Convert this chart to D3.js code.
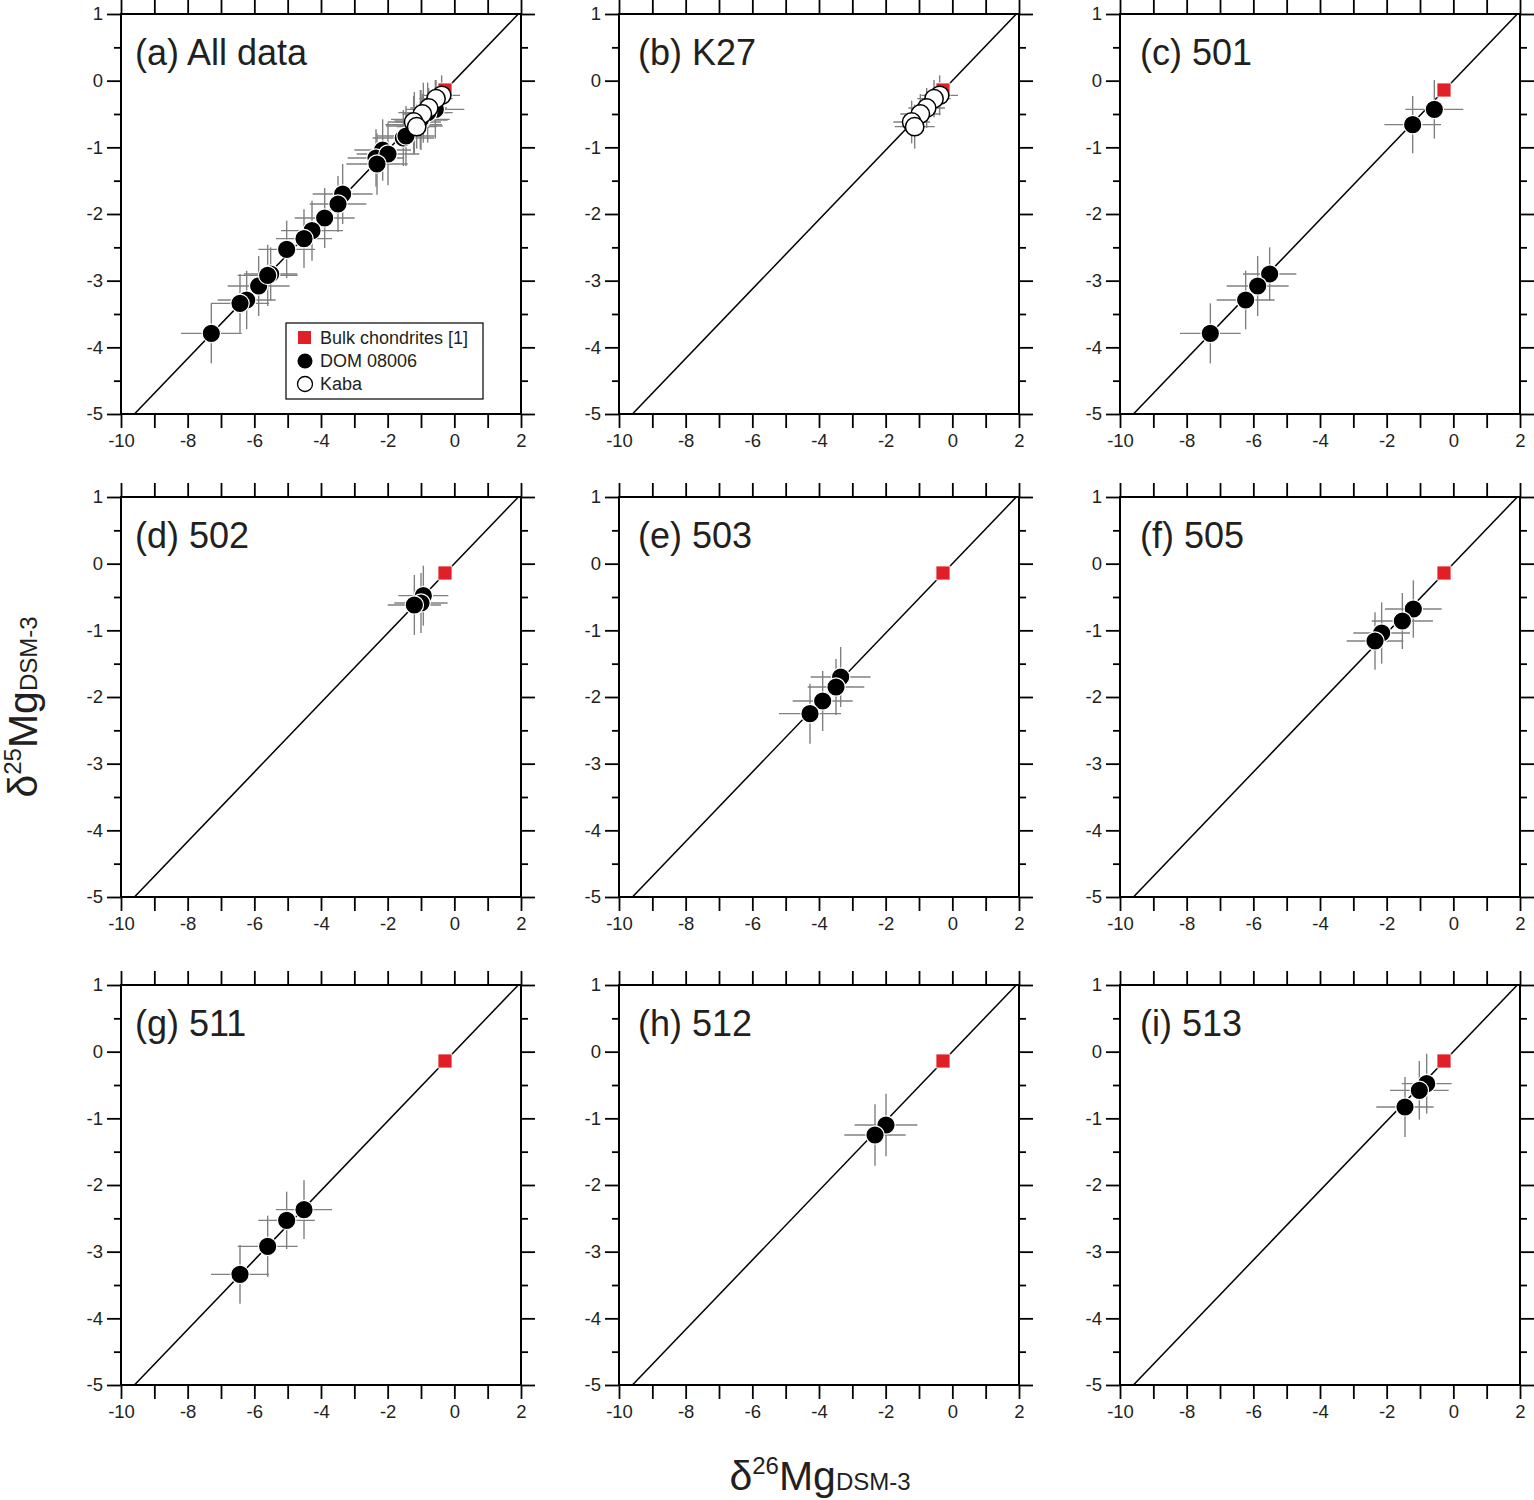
<!DOCTYPE html>
<html>
<head>
<meta charset="utf-8">
<script src="https://cdn.jsdelivr.net/npm/d3@7/dist/d3.min.js"></script>
<style>
  body { margin: 0; background: #fff; }
  svg text { font-family: "Liberation Sans", Arial, Helvetica, sans-serif; fill: #231f20; }
</style>
</head>
<body>
<svg id="chart" width="1534" height="1500"></svg>
<script>
// ---- data: [d26Mg, d25Mg, err26, err25] ----
const bulkChondrites = [[-0.28, -0.14]];
const kabaK27 = [
  [-0.38, -0.22, 0.55, 0.30],
  [-0.55, -0.27, 0.50, 0.28],
  [-0.77, -0.41, 0.55, 0.30],
  [-0.96, -0.50, 0.60, 0.30],
  [-1.22, -0.62, 0.55, 0.32],
  [-1.13, -0.69, 0.60, 0.33]
];
const dom501 = [
  [-0.57, -0.43, 0.87, 0.44],
  [-1.22, -0.66, 0.85, 0.43],
  [-5.51, -2.90, 0.80, 0.40],
  [-5.87, -3.08, 0.93, 0.45],
  [-6.23, -3.29, 0.87, 0.44],
  [-7.29, -3.79, 0.91, 0.45]
];
const dom502 = [
  [-0.93, -0.48, 0.75, 0.45],
  [-1.00, -0.59, 0.80, 0.45],
  [-1.20, -0.62, 0.80, 0.45]
];
const dom503 = [
  [-3.35, -1.70, 0.90, 0.45],
  [-3.49, -1.85, 0.85, 0.42],
  [-3.89, -2.06, 0.90, 0.45],
  [-4.27, -2.25, 0.93, 0.45]
];
const dom505 = [
  [-1.20, -0.68, 0.85, 0.43],
  [-1.53, -0.86, 0.92, 0.42],
  [-2.15, -1.04, 0.85, 0.46],
  [-2.35, -1.16, 0.85, 0.43]
];
const dom511 = [
  [-4.51, -2.37, 0.84, 0.44],
  [-5.03, -2.53, 0.85, 0.43],
  [-5.60, -2.92, 0.90, 0.46],
  [-6.43, -3.34, 0.87, 0.44]
];
const dom512 = [
  [-1.99, -1.10, 0.94, 0.47],
  [-2.32, -1.25, 0.92, 0.46]
];
const dom513 = [
  [-0.80, -0.48, 0.75, 0.45],
  [-1.02, -0.58, 0.88, 0.44],
  [-1.45, -0.83, 0.86, 0.45]
];
const allDom = [].concat(dom501, dom502, dom503, dom505, dom511, dom512, dom513);

const panelLabels = ["(a) All data", "(b) K27", "(c) 501", "(d) 502", "(e) 503", "(f) 505", "(g) 511", "(h) 512", "(i) 513"];
const panelDom = [allDom, [], dom501, dom502, dom503, dom505, dom511, dom512, dom513];
const panelKaba = [kabaK27, kabaK27, [], [], [], [], [], [], []];

const xTickValues = [-10, -8, -6, -4, -2, 0, 2];
const xMinorValues = [-9, -7, -5, -3, -1, 1];
const yTickValues = [-5, -4, -3, -2, -1, 0, 1];
const yMinorValues = [-4.5, -3.5, -2.5, -1.5, -0.5, 0.5];
const fractionationSlope = 0.521;
const legendItems = ["Bulk chondrites [1]", "DOM 08006", "Kaba"];

// ---- layout ----
const colX = [121, 619, 1120];
const rowY = [14, 497, 985];
const labelDx = [14, 19, 20];
const size = 400;
const errColor = "#808080";

const svg = d3.select("#chart");
const x = d3.scaleLinear().domain([-10, 2]).range([0, size]);
const y = d3.scaleLinear().domain([-5, 1]).range([size, 0]);
const plain = d => String(d);   // hyphen minus, like the original

svg.append("defs").append("clipPath").attr("id", "plotClip")
  .append("rect").attr("width", size).attr("height", size);

function styleAxis(g) {
  g.select(".domain").remove();
  g.selectAll(".tick line").attr("stroke", "#000").attr("stroke-width", 1.8);
  g.selectAll(".tick text").attr("font-size", 18.5).attr("fill", "#231f20");
}

panelLabels.forEach((label, i) => {
  const g = svg.append("g")
    .attr("transform", "translate(" + colX[i % 3] + "," + rowY[Math.floor(i / 3)] + ")");

  // axes
  g.append("g").attr("transform", "translate(0," + size + ")")
    .call(d3.axisBottom(x).tickValues(xTickValues).tickSize(14).tickPadding(6).tickFormat(plain))
    .call(styleAxis);
  g.append("g").attr("transform", "translate(0," + size + ")")
    .call(d3.axisBottom(x).tickValues(xMinorValues).tickSize(14).tickFormat(""))
    .call(styleAxis);
  g.append("g")
    .call(d3.axisTop(x).tickValues(xTickValues.concat(xMinorValues)).tickSize(14).tickFormat(""))
    .call(styleAxis);
  g.append("g")
    .call(d3.axisLeft(y).tickValues(yTickValues).tickSize(14).tickPadding(4).tickFormat(plain))
    .call(styleAxis);
  g.append("g")
    .call(d3.axisLeft(y).tickValues(yMinorValues).tickSize(7).tickFormat(""))
    .call(styleAxis);
  g.append("g").attr("transform", "translate(" + size + ",0)")
    .call(d3.axisRight(y).tickValues(yTickValues).tickSize(14).tickFormat(""))
    .call(styleAxis);
  g.append("g").attr("transform", "translate(" + size + ",0)")
    .call(d3.axisRight(y).tickValues(yMinorValues).tickSize(7).tickFormat(""))
    .call(styleAxis);

  const plot = g.append("g").attr("clip-path", "url(#plotClip)");

  // mass-dependent fractionation line
  plot.append("line")
    .attr("x1", x(-10)).attr("y1", y(-10 * fractionationSlope))
    .attr("x2", x(2)).attr("y2", y(2 * fractionationSlope))
    .attr("stroke", "#000").attr("stroke-width", 1.5);

  const pts = panelDom[i].concat(panelKaba[i]);
  // error bars
  plot.selectAll(".ex").data(pts).enter().append("line")
    .attr("x1", d => x(d[0] - d[2])).attr("x2", d => x(d[0] + d[2]))
    .attr("y1", d => y(d[1])).attr("y2", d => y(d[1]))
    .attr("stroke", errColor).attr("stroke-width", 1.4);
  plot.selectAll(".ey").data(pts).enter().append("line")
    .attr("x1", d => x(d[0])).attr("x2", d => x(d[0]))
    .attr("y1", d => y(d[1] - d[3])).attr("y2", d => y(d[1] + d[3]))
    .attr("stroke", errColor).attr("stroke-width", 1.4);

  // bulk chondrites
  plot.selectAll(".bulk").data(bulkChondrites).enter().append("rect")
    .attr("x", d => x(d[0]) - 7).attr("y", d => y(d[1]) - 7)
    .attr("width", 14).attr("height", 14)
    .attr("fill", "#e11f26").attr("stroke", "#fff").attr("stroke-width", 0.8);

  plot.selectAll(".dom").data(panelDom[i]).enter().append("circle")
    .attr("cx", d => x(d[0])).attr("cy", d => y(d[1])).attr("r", 9.2)
    .attr("fill", "#000").attr("stroke", "#fff").attr("stroke-width", 1.2);

  plot.selectAll(".kaba").data(panelKaba[i]).enter().append("circle")
    .attr("cx", d => x(d[0])).attr("cy", d => y(d[1])).attr("r", 9.2)
    .attr("fill", "#fff").attr("stroke", "#000").attr("stroke-width", 1.5);

  // frame
  g.append("rect").attr("width", size).attr("height", size)
    .attr("fill", "none").attr("stroke", "#000").attr("stroke-width", 2);

  g.append("text").attr("x", labelDx[i % 3]).attr("y", 51)
    .attr("font-size", 36).text(label);

  if (i === 0) {
    const lg = g.append("g").attr("transform", "translate(165,309)");
    lg.append("rect").attr("width", 197).attr("height", 76)
      .attr("fill", "#fff").attr("stroke", "#000").attr("stroke-width", 1.2);
    lg.append("rect").attr("x", 12).attr("y", 8).attr("width", 13).attr("height", 13).attr("fill", "#e11f26");
    lg.append("circle").attr("cx", 19).attr("cy", 38).attr("r", 7.5).attr("fill", "#000");
    lg.append("circle").attr("cx", 19).attr("cy", 61).attr("r", 7.5).attr("fill", "#fff")
      .attr("stroke", "#000").attr("stroke-width", 1.3);
    lg.selectAll(".lt").data(legendItems).enter().append("text")
      .attr("x", 34).attr("y", (d, k) => 21 + k * 23)
      .attr("font-size", 18).text(d => d);
  }
});

// axis titles
const xt = svg.append("text").attr("x", 820).attr("y", 1490).attr("text-anchor", "middle");
xt.append("tspan").attr("font-size", 41).text("δ");
xt.append("tspan").attr("font-size", 24).attr("dy", -16).text("26");
xt.append("tspan").attr("font-size", 41).attr("dy", 16).text("Mg");
xt.append("tspan").attr("font-size", 24).text("DSM-3");

const yt = svg.append("text").attr("transform", "translate(37,707) rotate(-90)").attr("text-anchor", "middle");
yt.append("tspan").attr("font-size", 41).text("δ");
yt.append("tspan").attr("font-size", 24).attr("dy", -16).text("25");
yt.append("tspan").attr("font-size", 41).attr("dy", 16).text("Mg");
yt.append("tspan").attr("font-size", 24).text("DSM-3");
</script>
</body>
</html>
